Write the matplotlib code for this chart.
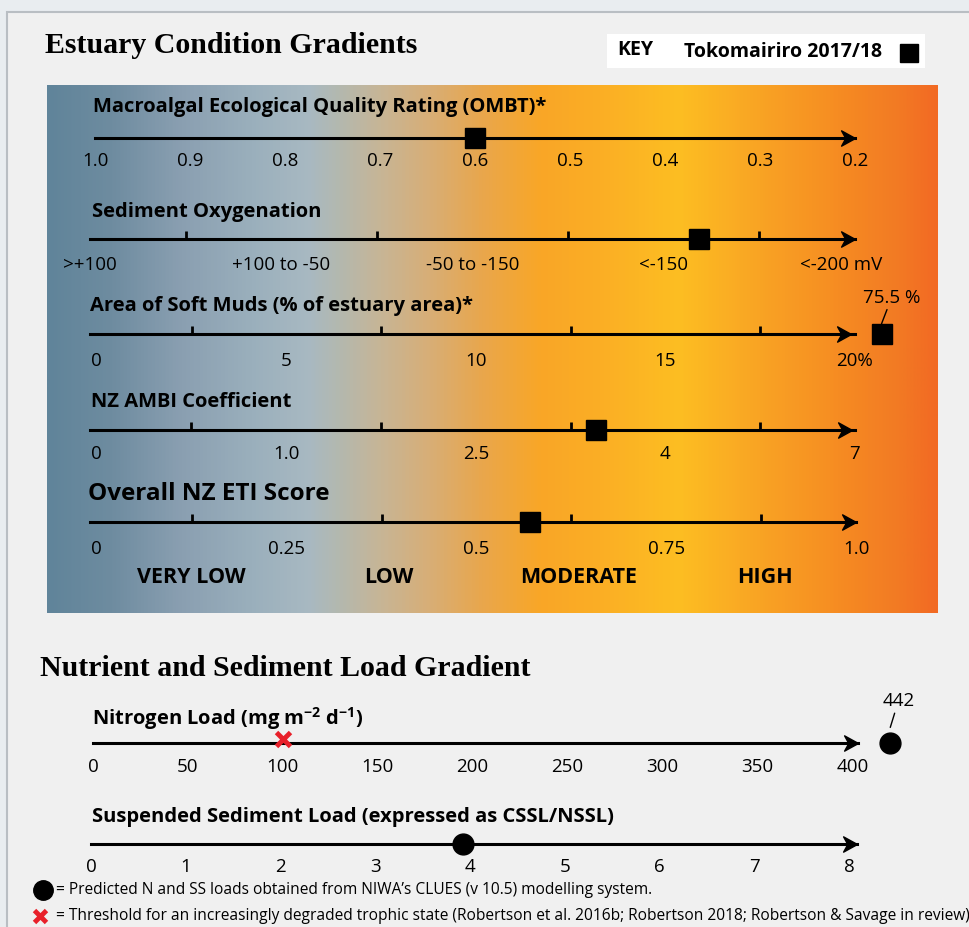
import numpy as np
import matplotlib.pyplot as plt
from matplotlib.colors import LinearSegmentedColormap
from matplotlib.path import Path
from matplotlib.patches import Rectangle

SANS = ['Open Sans', 'DejaVu Sans']
SERIF = ['Liberation Serif', 'DejaVu Serif']
plt.rcParams['font.family'] = SANS
plt.rcParams['mathtext.fontset'] = 'custom'
plt.rcParams['mathtext.bf'] = 'Open Sans:bold'
plt.rcParams['mathtext.rm'] = 'Open Sans'

W, H = 969, 927

# ---- data ----
ombt_ticks = [1.0, 0.9, 0.8, 0.7, 0.6, 0.5, 0.4, 0.3, 0.2]
ombt_value = 0.6

oxy_labels = ['>+100', '+100 to -50', '-50 to -150', '<-150', '<-200 mV']
oxy_label_pos = [0, 2, 4, 6, 7.85]
oxy_value = 6.37          # position on the 0-8 category scale

muds_ticks = [0, 5, 10, 15, 20]
muds_ticklabels = ['0', '5', '10', '15', '20%']
muds_value = 75.5

ambi_ticks = [0, 1.0, 2.5, 4, 7]
ambi_ticklabels = ['0', '1.0', '2.5', '4', '7']
ambi_value = 3.45

eti_ticks = [0, 0.25, 0.5, 0.75, 1.0]
eti_ticklabels = ['0', '0.25', '0.5', '0.75', '1.0']
eti_value = 0.57
eti_bands = ['VERY LOW', 'LOW', 'MODERATE', 'HIGH']
eti_band_pos = [0.125, 0.385, 0.635, 0.88]

n_ticks = [0, 50, 100, 150, 200, 250, 300, 350, 400]
n_threshold = 100
n_value = 442

ss_ticks = [0, 1, 2, 3, 4, 5, 6, 7, 8]
ss_value = 3.92

# stealth arrow head
head = Path([(0, 0), (-1, 0.55), (-0.7, 0), (-1, -0.55), (0, 0)],
            [Path.MOVETO, Path.LINETO, Path.LINETO, Path.LINETO, Path.CLOSEPOLY])

fig = plt.figure(figsize=(W / 100, H / 100), dpi=100)
fig.patch.set_facecolor('#e9edf0')

bg = fig.add_axes([0, 0, 1, 1])
bg.set_xlim(0, W)
bg.set_ylim(H, 0)
bg.axis('off')
bg.add_patch(Rectangle((7, 12), 980, 930, facecolor='#f0f0f0',
                       edgecolor='#b9bec3', lw=1.5))

# gradient band
stops = [(47, '#60849a'), (110, '#6e8ca0'), (180, '#8a9fb1'), (250, '#9aafbc'),
         (308, '#a8b9c2'), (340, '#b4b8ae'), (380, '#c7b596'), (430, '#d8ae76'),
         (480, '#e8a74e'), (540, '#f9a627'), (600, '#fbae25'), (680, '#fdbe22'),
         (760, '#f9a424'), (840, '#f68c22'), (900, '#f27a24'), (938, '#f26a23')]
x0, x1 = stops[0][0], stops[-1][0]
cmap = LinearSegmentedColormap.from_list(
    'grad', [((x - x0) / (x1 - x0), c) for x, c in stops])
bg.imshow(np.linspace(0, 1, 512)[None, :], cmap=cmap, aspect='auto',
          extent=[x0, x1, 613, 85], zorder=1)

bg.text(45, 45, 'Estuary Condition Gradients', family=SERIF, fontweight='bold',
        fontsize=21.5, va='center', ha='left')
bg.text(40, 669, 'Nutrient and Sediment Load Gradient', family=SERIF,
        fontweight='bold', fontsize=21.5, va='center', ha='left')

# key
bg.add_patch(Rectangle((607, 34), 318, 34, facecolor='white', edgecolor='none', zorder=2))
bg.text(617, 50, 'KEY', fontweight='bold', fontsize=14, va='center', zorder=3)
bg.text(684, 52, 'Tokomairiro 2017/18', fontweight='bold', fontsize=14,
        va='center', zorder=3)
bg.plot([909], [53], marker='s', ms=13, color='black', zorder=3)


def row(left, right, liney, lim, title, title_x, title_y, tfs=14.5):
    ax = fig.add_axes([left / W, 1 - liney / H, (right - left) / W, 30 / H])
    ax.set_xlim(*lim)
    ax.set_ylim(0, 1)
    ax.patch.set_visible(False)
    for s in ['top', 'right', 'left']:
        ax.spines[s].set_visible(False)
    ax.spines['bottom'].set_linewidth(2.2)
    ax.set_yticks([])
    ax.tick_params(axis='x', which='major', length=0, pad=10, labelsize=13.5)
    ax.tick_params(axis='x', which='minor', length=6, width=2, direction='in')
    ax.plot([lim[1]], [0], marker=head, ms=20, color='black', clip_on=False,
            zorder=4)
    bg.text(title_x, title_y, title, fontweight='bold', fontsize=tfs,
            va='center', ha='left', zorder=3)
    return ax


sq = dict(marker='s', ms=14, color='black', clip_on=False, zorder=5)
dot = dict(marker='o', ms=15, color='black', clip_on=False, zorder=5)
lead = dict(arrowstyle='-', lw=1, color='black', shrinkA=0, shrinkB=0)

# OMBT
ax = row(95, 855, 138, (1.0, 0.2), 'Macroalgal Ecological Quality Rating (OMBT)*', 93, 107)
ax.set_xticks(ombt_ticks)
ax.set_xticklabels([f'{t:.1f}' for t in ombt_ticks])
ax.set_xticks(ombt_ticks[1:-1], minor=True)
ax.plot([ombt_value], [0], **sq)

# Sediment oxygenation
ax = row(90, 855, 239, (0, 8), 'Sediment Oxygenation', 92, 212)
ax.set_xticks(oxy_label_pos)
ax.set_xticklabels(oxy_labels)
ax.set_xticks(np.arange(1, 8), minor=True)
ax.tick_params(axis='x', pad=12)
ax.plot([oxy_value], [0], **sq)

# Soft muds
ax = row(90, 855, 334, (-0.18, 19.9), 'Area of Soft Muds (% of estuary area)*', 90, 306)
ax.set_xticks(muds_ticks)
ax.set_xticklabels(muds_ticklabels)
ax.set_xticks(np.arange(2.5, 19, 2.5), minor=True)
ax.tick_params(axis='x', pad=13)
over = 19.9 + 0.8
ax.plot([over], [0], **sq)
ax.annotate(f'{muds_value} %', xy=(over, 0.34), xytext=(10, 17),
            textcoords='offset pixels', ha='center', va='bottom', fontsize=13.5,
            annotation_clip=False, arrowprops=lead)

# AMBI (piecewise scale)
ambi_pos = np.arange(len(ambi_ticks)) * 2
ax = row(90, 855, 430, (-0.07, 7.97), 'NZ AMBI Coefficient', 91, 402)
ax.set_xticks(ambi_pos)
ax.set_xticklabels(ambi_ticklabels)
ax.set_xticks(np.arange(1, 8), minor=True)
ax.tick_params(axis='x', pad=11)
ax.plot([np.interp(ambi_value, ambi_ticks, ambi_pos)], [0], **sq)

# ETI
ax = row(90, 856, 522, (-0.009, 1.0), 'Overall NZ ETI Score', 88, 494, tfs=17.5)
ax.set_xticks(eti_ticks)
ax.set_xticklabels(eti_ticklabels)
ax.set_xticks(np.arange(0.125, 0.9, 0.125), minor=True)
ax.tick_params(axis='x', pad=13)
ax.plot([eti_value], [0], **sq)
for lab, p in zip(eti_bands, eti_band_pos):
    ax.text(p, -1.85, lab, fontweight='bold', fontsize=15.5, ha='center', va='center')

# Nitrogen
ax = row(93, 858, 743, (0, 403), 'Nitrogen Load (mg m$^{\\mathbf{-2}}$ d$^{\\mathbf{-1}}$)', 92, 719)
ax.set_xticks(n_ticks)
ax.set_xticks(n_ticks[1:-1], minor=True)
ax.tick_params(axis='x', pad=11)
ax.plot([n_threshold], [0.12], marker='x', ms=10, mew=3.5, color='#e8202a',
        clip_on=False, zorder=5)
nover = 403 + 17
ax.plot([nover], [0], **dot)
ax.annotate(f'{n_value}', xy=(nover, 0.52), xytext=(8, 17),
            textcoords='offset pixels', ha='center', va='bottom', fontsize=13.5,
            annotation_clip=False, arrowprops=lead)

# Suspended sediment
ax = row(91, 857, 844, (0, 8.08), 'Suspended Sediment Load (expressed as CSSL/NSSL)', 92, 817)
ax.set_xticks(ss_ticks)
ax.set_xticks(ss_ticks[1:-1], minor=True)
ax.tick_params(axis='x', pad=10)
ax.plot([ss_value], [0], **dot)

# legend notes
bg.plot([43], [890], marker='o', ms=14, color='black')
bg.text(56, 890, '= Predicted N and SS loads obtained from NIWA\u2019s CLUES (v 10.5) modelling system.',
        fontsize=11.2, va='center')
bg.plot([40], [916], marker='x', ms=9, mew=3.5, color='#e8202a')
bg.text(56, 916, '= Threshold for an increasingly degraded trophic state (Robertson et al. 2016b; '
        'Robertson 2018; Robertson & Savage in review)', fontsize=11.2, va='center')

fig.savefig('out.png', dpi=100)
